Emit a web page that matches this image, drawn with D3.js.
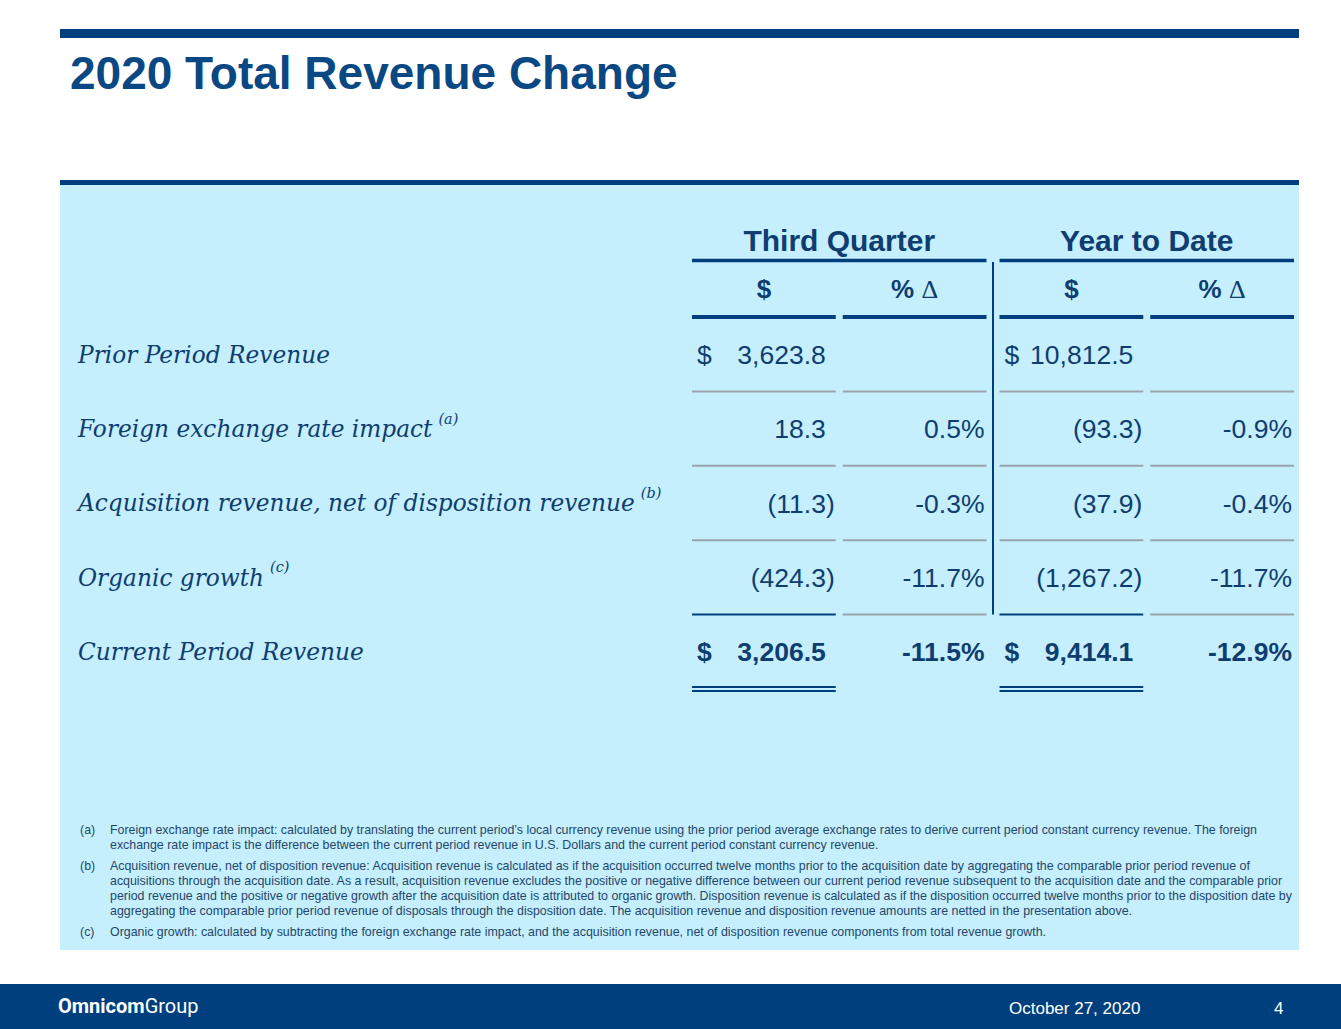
<!DOCTYPE html>
<html>
<head>
<meta charset="utf-8">
<script src="https://cdn.jsdelivr.net/npm/d3@7"></script>
<style>
  body { margin: 0; background: #fff; }
  svg { display: block; }
</style>
</head>
<body>
<svg id="slide" width="1341" height="1029"></svg>
<script>
// ---- data ----
const title = "2020 Total Revenue Change"
const groups = ["Third Quarter", "Year to Date"]
const subCols = ["$", "pct"]
const rowLabels = [
    "Prior Period Revenue",
    "Foreign exchange rate impact",
    "Acquisition revenue, net of disposition revenue",
    "Organic growth",
    "Current Period Revenue"
]
const rowNotes = [null, "(a)", "(b)", "(c)", null]
const q3Dollars = [3623.8, 18.3, -11.3, -424.3, 3206.5]
const q3Pct = [null, 0.5, -0.3, -11.7, -11.5]
const ytdDollars = [10812.5, -93.3, -37.9, -1267.2, 9414.1]
const ytdPct = [null, -0.9, -0.4, -11.7, -12.9]
const footnotes = [
    ["(a)", [
        "Foreign exchange rate impact: calculated by translating the current period\u2019s local currency revenue using the prior period average exchange rates to derive current period constant currency revenue. The foreign",
        "exchange rate impact is the difference between the current period revenue in U.S. Dollars and the current period constant currency revenue."
    ]],
    ["(b)", [
        "Acquisition revenue, net of disposition revenue: Acquisition revenue is calculated as if the acquisition occurred twelve months prior to the acquisition date by aggregating the comparable prior period revenue of",
        "acquisitions through the acquisition date. As a result, acquisition revenue excludes the positive or negative difference between our current period revenue subsequent to the acquisition date and the comparable prior",
        "period revenue and the positive or negative growth after the acquisition date is attributed to organic growth. Disposition revenue is calculated as if the disposition occurred twelve months prior to the disposition date by",
        "aggregating the comparable prior period revenue of disposals through the disposition date. The acquisition revenue and disposition revenue amounts are netted in the presentation above."
    ]],
    ["(c)", [
        "Organic growth: calculated by subtracting the foreign exchange rate impact, and the acquisition revenue, net of disposition revenue components from total revenue growth."
    ]]
]
const footerDate = "October 27, 2020"
const pageNum = "4"

// ---- styles ----
const NAVY = "#003f7e"
const TEXT = "#0f3d70"
const PANEL = "#c5effc"
const GREY = "#9aa3ad"
const SANS = "Arial, 'Liberation Sans', sans-serif"
const SERIF = "'DejaVu Serif', Georgia, serif"

const svg = d3.select("#slide")

// Title area
svg.append("rect").attr("x", 60).attr("y", 29).attr("width", 1239).attr("height", 9).attr("fill", NAVY)
svg.append("text")
    .attr("x", 70).attr("y", 89)
    .attr("font-family", SANS).attr("font-weight", "bold").attr("font-size", 46)
    .attr("fill", "#0a4883")
    .text(title)

// Panel
svg.append("rect").attr("x", 60).attr("y", 185).attr("width", 1239).attr("height", 765).attr("fill", PANEL)
svg.append("rect").attr("x", 60).attr("y", 180).attr("width", 1239).attr("height", 5).attr("fill", NAVY)

// ---- scales ----
const groupX = d3.scaleBand().domain(groups).range([692, 1294]).paddingInner(0.0423)
const colX = d3.scaleBand().domain(subCols).range([0, groupX.bandwidth()]).paddingInner(0.0464)
const rowY = d3.scaleBand().domain(d3.range(rowLabels.length)).range([317, 689])

const fmtNum = d3.format(",.1f")
const fmtPct = d => d3.format(".1f")(d).replace("\u2212", "-") + "%"

const table = [
    { group: groups[0], dollars: q3Dollars, pct: q3Pct },
    { group: groups[1], dollars: ytdDollars, pct: ytdPct }
]

// Group headers
const gHead = svg.selectAll(".ghead").data(table).join("g").attr("class", "ghead")
    .attr("transform", d => `translate(${groupX(d.group)},0)`)

gHead.append("text")
    .attr("x", groupX.bandwidth() / 2).attr("y", 251)
    .attr("text-anchor", "middle")
    .attr("font-family", SANS).attr("font-weight", "bold").attr("font-size", 30)
    .attr("fill", TEXT)
    .text(d => d.group)

gHead.append("line")
    .attr("x1", 0).attr("x2", groupX.bandwidth())
    .attr("y1", 260.5).attr("y2", 260.5)
    .attr("stroke", NAVY).attr("stroke-width", 3.5)

// Sub headers
subCols.forEach(c => {
    let t = gHead.append("text")
        .attr("x", colX(c) + colX.bandwidth() / 2).attr("y", 298)
        .attr("text-anchor", "middle")
        .attr("font-family", SANS).attr("font-weight", "bold").attr("font-size", 26)
        .attr("fill", TEXT)
    if (c === "$") {
        t.text("$")
    } else {
        t.append("tspan").text("% ")
        t.append("tspan").attr("font-family", "'Liberation Serif', serif").attr("font-weight", "normal").text("\u0394")
    }
    gHead.append("line")
        .attr("x1", colX(c)).attr("x2", colX(c) + colX.bandwidth())
        .attr("y1", 317).attr("y2", 317)
        .attr("stroke", NAVY).attr("stroke-width", 4)
})

// Vertical divider
const divX = (groupX(groups[0]) + groupX.bandwidth() + groupX(groups[1])) / 2
svg.append("line")
    .attr("x1", divX).attr("x2", divX)
    .attr("y1", 262).attr("y2", rowY(rowLabels.length - 1))
    .attr("stroke", NAVY).attr("stroke-width", 2)

// Row separators
const lastRow = rowLabels.length - 1
table.forEach(g => {
    subCols.forEach(c => {
        d3.range(1, rowLabels.length).forEach(i => {
            let dark = i === lastRow && c === "$"
            svg.append("line")
                .attr("x1", groupX(g.group) + colX(c)).attr("x2", groupX(g.group) + colX(c) + colX.bandwidth())
                .attr("y1", rowY(i)).attr("y2", rowY(i))
                .attr("stroke", dark ? NAVY : GREY).attr("stroke-width", 2)
        })
    })
    // double underline under totals
    let bottom = rowY(lastRow) + rowY.bandwidth();
    [-2, 2].forEach(off => {
        svg.append("line")
            .attr("x1", groupX(g.group) + colX("$")).attr("x2", groupX(g.group) + colX("$") + colX.bandwidth())
            .attr("y1", bottom + off).attr("y2", bottom + off)
            .attr("stroke", NAVY).attr("stroke-width", 2)
    })
})

// Row labels (fit the longest label to the reference width)
const labelG = svg.append("g")
const labels = labelG.selectAll("text").data(rowLabels).join("text")
    .attr("x", 78)
    .attr("y", (d, i) => rowY(i) + rowY.bandwidth() / 2)
    .attr("dy", "0.36em")
    .attr("font-family", SERIF).attr("font-style", "italic").attr("font-size", 22)
    .attr("fill", TEXT)
    .text(d => d)
let longest = d3.max(labels.nodes(), n => n.getComputedTextLength())
let labelSize = 22 * 557 / longest
labels.attr("font-size", labelSize)
labels.each(function (d, i) {
    if (!rowNotes[i]) return
    let w = this.getComputedTextLength()
    labelG.append("text")
        .attr("x", 78 + w + 6)
        .attr("y", rowY(i) + rowY.bandwidth() / 2 - 5)
        .attr("font-family", SERIF).attr("font-style", "italic").attr("font-size", labelSize * 0.62)
        .attr("fill", TEXT)
        .text(rowNotes[i])
})

// Values
table.forEach(g => {
    let x0 = groupX(g.group)
    let dRight = x0 + colX("$") + colX.bandwidth()
    let pRight = x0 + colX("pct") + colX.bandwidth()
    g.dollars.forEach((v, i) => {
        let cy = rowY(i) + rowY.bandwidth() / 2
        let bold = i === lastRow ? "bold" : "normal"
        if (i === 0 || i === lastRow) {
            svg.append("text")
                .attr("x", x0 + colX("$") + 5).attr("y", cy).attr("dy", "0.36em")
                .attr("font-family", SANS).attr("font-weight", bold).attr("font-size", 26.5)
                .attr("fill", TEXT).text("$")
        }
        svg.append("text")
            .attr("x", v < 0 ? dRight - 1 : dRight - 10).attr("y", cy).attr("dy", "0.36em")
            .attr("text-anchor", "end")
            .attr("font-family", SANS).attr("font-weight", bold).attr("font-size", 26.5)
            .attr("fill", TEXT)
            .text(v < 0 ? `(${fmtNum(-v)})` : fmtNum(v))
        let p = g.pct[i]
        if (p === null) return
        svg.append("text")
            .attr("x", pRight - 2).attr("y", cy).attr("dy", "0.36em")
            .attr("text-anchor", "end")
            .attr("font-family", SANS).attr("font-weight", bold).attr("font-size", 26.5)
            .attr("fill", TEXT)
            .text(fmtPct(p))
    })
})

// Footnotes
let fy = 834
footnotes.forEach(([tag, lines]) => {
    svg.append("text")
        .attr("x", 80).attr("y", fy)
        .attr("font-family", SANS).attr("font-size", 12.4).attr("fill", "#24466b")
        .text(tag)
    lines.forEach(line => {
        svg.append("text")
            .attr("x", 110).attr("y", fy)
            .attr("font-family", SANS).attr("font-size", 12.4).attr("fill", "#24466b")
            .text(line)
        fy += 15
    })
    fy += 6
})

// Footer
svg.append("rect").attr("x", 0).attr("y", 984).attr("width", 1341).attr("height", 45).attr("fill", NAVY)
let brand = svg.append("text")
    .attr("x", 58).attr("y", 1013)
    .attr("font-family", "'Liberation Sans Narrow', Roboto, sans-serif").attr("font-size", 20)
    .attr("fill", "#fff")
brand.append("tspan").attr("font-weight", "bold").text("Omnicom")
brand.append("tspan").text("Group")
svg.append("text")
    .attr("x", 1009).attr("y", 1014)
    .attr("font-family", SANS).attr("font-size", 17)
    .attr("fill", "#fff")
    .text(footerDate)
svg.append("text")
    .attr("x", 1274).attr("y", 1014)
    .attr("font-family", SANS).attr("font-size", 17)
    .attr("fill", "#fff")
    .text(pageNum)
</script>
</body>
</html>
